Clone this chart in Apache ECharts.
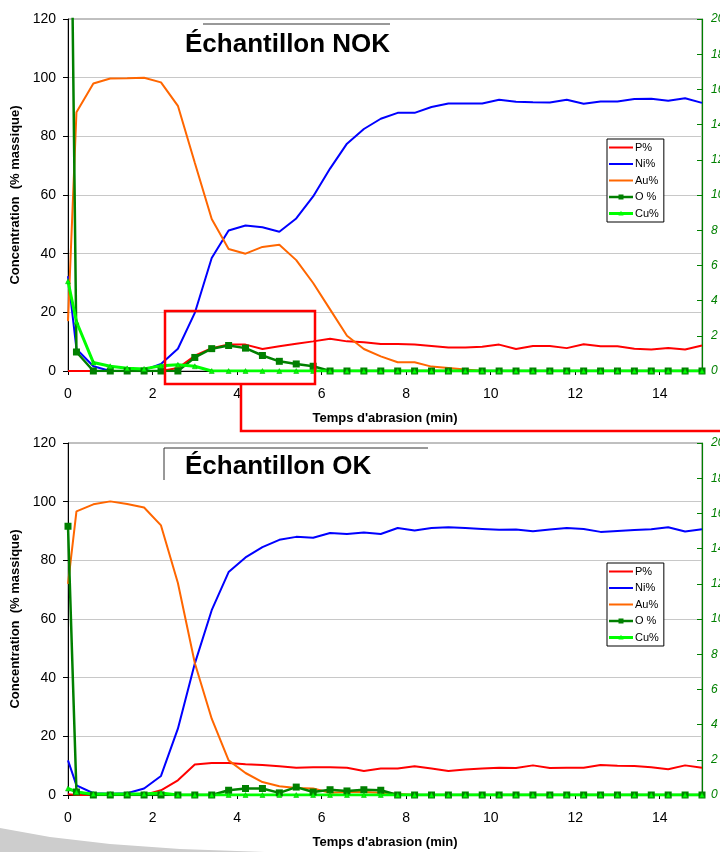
<!DOCTYPE html>
<html>
<head>
<meta charset="utf-8">
<script src="https://cdn.jsdelivr.net/npm/echarts@6/dist/echarts.min.js"></script>
<style>
  html, body { margin: 0; padding: 0; background: #fff; }
  #chartDiv { width: 720px; height: 852px; }
</style>
</head>
<body>
<div id="chartDiv"></div>
<script>
// temps d'abrasion (min)
const times = [0, 0.2, 0.6, 1.0, 1.4, 1.8, 2.2, 2.6, 3.0, 3.4, 3.8, 4.2, 4.6, 5.0, 5.4, 5.8, 6.2, 6.6, 7.0, 7.4,
  7.8, 8.2, 8.6, 9.0, 9.4, 9.8, 10.2, 10.6, 11.0, 11.4, 11.8, 12.2, 12.6, 13.0, 13.4, 13.8, 14.2, 14.6, 15.0]

const seriesNames = ['P%', 'Ni%', 'Au%', 'O %', 'Cu%']
const seriesColors = ['#ff0000', '#0000ff', '#ff6600', '#008000', '#00ff00']

// Échantillon NOK (P, Ni, Au sur axe gauche ; O, Cu sur axe droit)
const pNok = [0, 0, 0, 0, 0, 0, 0, 1, 5.2, 7.8, 9, 9, 7.5, 8.4, 9.3, 10.1, 11, 10.1, 9.8, 9.2,
  9.2, 9, 8.5, 8, 8, 8.3, 9, 7.5, 8.5, 8.5, 7.8, 9.1, 8.4, 8.4, 7.6, 7.3, 7.8, 7.3, 8.7]
const niNok = [32.3, 7.5, 1.6, 0, 0, 0.3, 2.4, 7.6, 19.8, 38.5, 47.9, 49.6, 49, 47.5, 52, 59.5, 69, 77.5, 82.5, 86,
  88, 88, 90, 91.2, 91.2, 91.2, 92.5, 91.8, 91.6, 91.5, 92.5, 91.1, 91.9, 91.9, 92.7, 92.8, 92.1, 93, 91.4]
const auNok = [17, 88.2, 98, 99.7, 99.8, 100, 98.4, 90.4, 71, 51.8, 41.6, 40, 42.3, 43, 37.8, 30, 21, 12, 7.5, 5,
  3, 3, 1.5, 1, 0.5, 0, 0, 0, 0, 0, 0, 0, 0, 0, 0, 0, 0, 0, 0]
const oNok = [43, 1.08, 0, 0, 0, 0, 0, 0, 0.77, 1.27, 1.45, 1.3, 0.88, 0.55, 0.4, 0.27, 0, 0, 0, 0,
  0, 0, 0, 0, 0, 0, 0, 0, 0, 0, 0, 0, 0, 0, 0, 0, 0, 0, 0]
const cuNok = [5.1, 2.8, 0.48, 0.27, 0.15, 0.12, 0.3, 0.35, 0.27, 0, 0, 0, 0, 0, 0, 0, 0, 0, 0, 0,
  0, 0, 0, 0, 0, 0, 0, 0, 0, 0, 0, 0, 0, 0, 0, 0, 0, 0, 0]

// Échantillon OK
const pOk = [0.3, 0, 0, 0, 0, 0, 1.6, 5, 10.4, 10.9, 10.9, 10.5, 10.2, 9.8, 9.3, 9.5, 9.5, 9.3, 8.2, 9,
  9, 9.8, 9, 8.2, 8.7, 9, 9.3, 9.2, 10.1, 9.2, 9.3, 9.3, 10.2, 10, 9.9, 9.5, 8.8, 10.1, 9.3]
const niOk = [11.8, 3.3, 0.6, 0.4, 0.6, 2.2, 6.5, 22.6, 44.8, 63, 76, 81, 84.5, 87, 88, 87.7, 89.3, 89, 89.5, 89,
  91, 90.2, 91, 91.3, 91, 90.7, 90.4, 90.5, 89.9, 90.5, 91, 90.7, 89.7, 90, 90.3, 90.6, 91.3, 89.8, 90.6]
const auOk = [72, 96.7, 99.1, 100.1, 99.2, 98, 91.9, 72.3, 45, 26, 11.8, 7.5, 4.4, 3, 2.4, 2.2, 0.8, 1, 1, 0.8,
  0.3, 0, 0, 0, 0, 0, 0, 0, 0, 0, 0, 0, 0, 0, 0, 0, 0, 0, 0]
const oOk = [15.27, 0.17, 0, 0, 0, 0, 0, 0, 0, 0, 0.27, 0.37, 0.37, 0.12, 0.45, 0.17, 0.3, 0.23, 0.3, 0.27,
  0, 0, 0, 0, 0, 0, 0, 0, 0, 0, 0, 0, 0, 0, 0, 0, 0, 0, 0]
const cuOk = [0.37, 0.17, 0.05, 0.05, 0.05, 0.05, 0.12, 0, 0, 0, 0, 0, 0, 0, 0, 0, 0, 0, 0, 0,
  0, 0, 0, 0, 0, 0, 0, 0, 0, 0, 0, 0, 0, 0, 0, 0, 0, 0, 0]

const font = '"Liberation Sans", Arial, sans-serif'

// icônes de légende façon Excel (trait seul, trait + carré, trait + triangle)
const iconLine = 'path://M0,0M0,4h24v2h-24zM24,10'
const iconSquare = 'path://M0,0M0,3.8h24v2.4h-24zM9.5,2.5h5v5h-5zM24,10'
const iconTriangle = 'path://M0,0M0,3.6h24v2.8h-24zM12,2.2L14.6,7L9.4,7zM24,10'
const legendIcons = [iconLine, iconLine, iconLine, iconSquare, iconTriangle]

function zip(vals) {
  return times.map((t, i) => [t, vals[i]])
}

function buildSeries(idx, p, ni, au, o, cu) {
  let left = idx * 2, right = idx * 2 + 1
  let plain = (k, vals) => ({
    name: seriesNames[k], type: 'line', xAxisIndex: idx, yAxisIndex: left,
    data: zip(vals), symbol: 'none',
    lineStyle: { color: seriesColors[k], width: 2 },
    itemStyle: { color: seriesColors[k] }
  })
  return [
    plain(0, p),
    plain(1, ni),
    plain(2, au),
    {
      name: seriesNames[3], type: 'line', xAxisIndex: idx, yAxisIndex: right,
      data: zip(o), symbol: 'rect', symbolSize: 7,
      lineStyle: { color: seriesColors[3], width: 2.5 },
      itemStyle: { color: seriesColors[3] }
    },
    {
      name: seriesNames[4], type: 'line', xAxisIndex: idx, yAxisIndex: right,
      data: zip(cu), symbol: 'triangle', symbolSize: 5,
      lineStyle: { color: seriesColors[4], width: 3 },
      itemStyle: { color: seriesColors[4], borderColor: '#00b000', borderWidth: 0.5 }
    }
  ]
}

function xAxisOf(idx) {
  return {
    type: 'value', gridIndex: idx, min: 0, max: 15, interval: 2,
    name: "Temps d'abrasion (min)", nameLocation: 'middle', nameGap: 41,
    nameTextStyle: { fontFamily: font, fontWeight: 'bold', fontSize: 13, color: '#000' },
    axisLine: { lineStyle: { color: '#000', width: 1 } },
    axisTick: { length: 4, lineStyle: { color: '#000' } },
    axisLabel: { showMaxLabel: false, margin: 16, fontFamily: font, fontSize: 14, color: '#000' },
    splitLine: { show: false }
  }
}

function yAxesOf(idx) {
  return [
    {
      type: 'value', gridIndex: idx, min: 0, max: 120, interval: 20,
      name: 'Concentration  (% massique)', nameLocation: 'middle', nameGap: 40,
      nameTextStyle: { fontFamily: font, fontWeight: 'bold', fontSize: 13, color: '#000' },
      axisLine: { show: true, lineStyle: { color: '#000', width: 1 } },
      axisTick: { show: true, length: 5, lineStyle: { color: '#000' } },
      axisLabel: { margin: 12, fontFamily: font, fontSize: 14, color: '#000' },
      splitLine: { show: true, showMaxLine: false, lineStyle: { color: '#c8c8c8', width: 1 } }
    },
    {
      type: 'value', gridIndex: idx, min: 0, max: 20, interval: 2, position: 'right',
      axisLine: { show: true, lineStyle: { color: '#008000', width: 1.2 } },
      axisTick: { show: true, inside: true, length: 5, lineStyle: { color: '#008000' } },
      axisLabel: { margin: 9, fontFamily: font, fontSize: 12, fontStyle: 'italic', color: '#008000' },
      splitLine: { show: false }
    }
  ]
}

function legendOf(top) {
  return {
    orient: 'vertical', left: 607, top: top,
    data: seriesNames.map((n, k) => ({ name: n, icon: legendIcons[k] })),
    selectedMode: false,
    backgroundColor: '#fff', borderColor: '#000', borderWidth: 1,
    padding: [3, 5, 3, 2], itemGap: 5.5, itemWidth: 24, itemHeight: 10,
    itemStyle: { borderWidth: 0 },
    textStyle: { fontFamily: font, fontSize: 11, color: '#000', padding: [0, 0, 0, -3] }
  }
}

let chart = echarts.init(document.getElementById('chartDiv'))
chart.setOption({
  animation: false,
  backgroundColor: '#fff',
  grid: [
    {
      left: 68, right: 18, top: 19, height: 352, outerBoundsMode: 'none',
      show: true, borderColor: '#808080', borderWidth: 1, backgroundColor: 'transparent'
    },
    {
      left: 68, right: 18, top: 443, height: 352, outerBoundsMode: 'none',
      show: true, borderColor: '#808080', borderWidth: 1, backgroundColor: 'transparent'
    }
  ],
  xAxis: [xAxisOf(0), xAxisOf(1)],
  yAxis: [...yAxesOf(0), ...yAxesOf(1)],
  legend: [legendOf(139), legendOf(563)],
  series: [
    ...buildSeries(0, pNok, niNok, auNok, oNok, cuNok),
    ...buildSeries(1, pOk, niOk, auOk, oOk, cuOk)
  ],
  graphic: [
    // bandeau gris de la diapo
    {
      type: 'polygon', z: -1,
      shape: { points: [[0, 828], [50, 837], [110, 844], [180, 849], [265, 852], [0, 852]] },
      style: { fill: '#cdcdcd' }
    },
    // cadres des titres
    { type: 'line', shape: { x1: 203, y1: 24, x2: 390, y2: 24 }, style: { stroke: '#333', lineWidth: 1 } },
    { type: 'polyline', shape: { points: [[164, 480], [164, 448], [428, 448]] }, style: { stroke: '#333', lineWidth: 1, fill: null } },
    {
      type: 'text', style: { x: 185, y: 45, text: 'Échantillon NOK', font: 'bold 26px ' + font, fill: '#000', textVerticalAlign: 'middle' }
    },
    {
      type: 'text', style: { x: 185, y: 467, text: 'Échantillon OK', font: 'bold 26px ' + font, fill: '#000', textVerticalAlign: 'middle' }
    },
    // zoom rouge
    { type: 'rect', z: 100, shape: { x: 165, y: 311, width: 150, height: 73 }, style: { stroke: '#ff0000', lineWidth: 2.5, fill: null } },
    { type: 'polyline', z: 100, shape: { points: [[241, 384], [241, 431], [720, 431]] }, style: { stroke: '#ff0000', lineWidth: 2.5, fill: null } }
  ]
})
</script>
</body>
</html>
